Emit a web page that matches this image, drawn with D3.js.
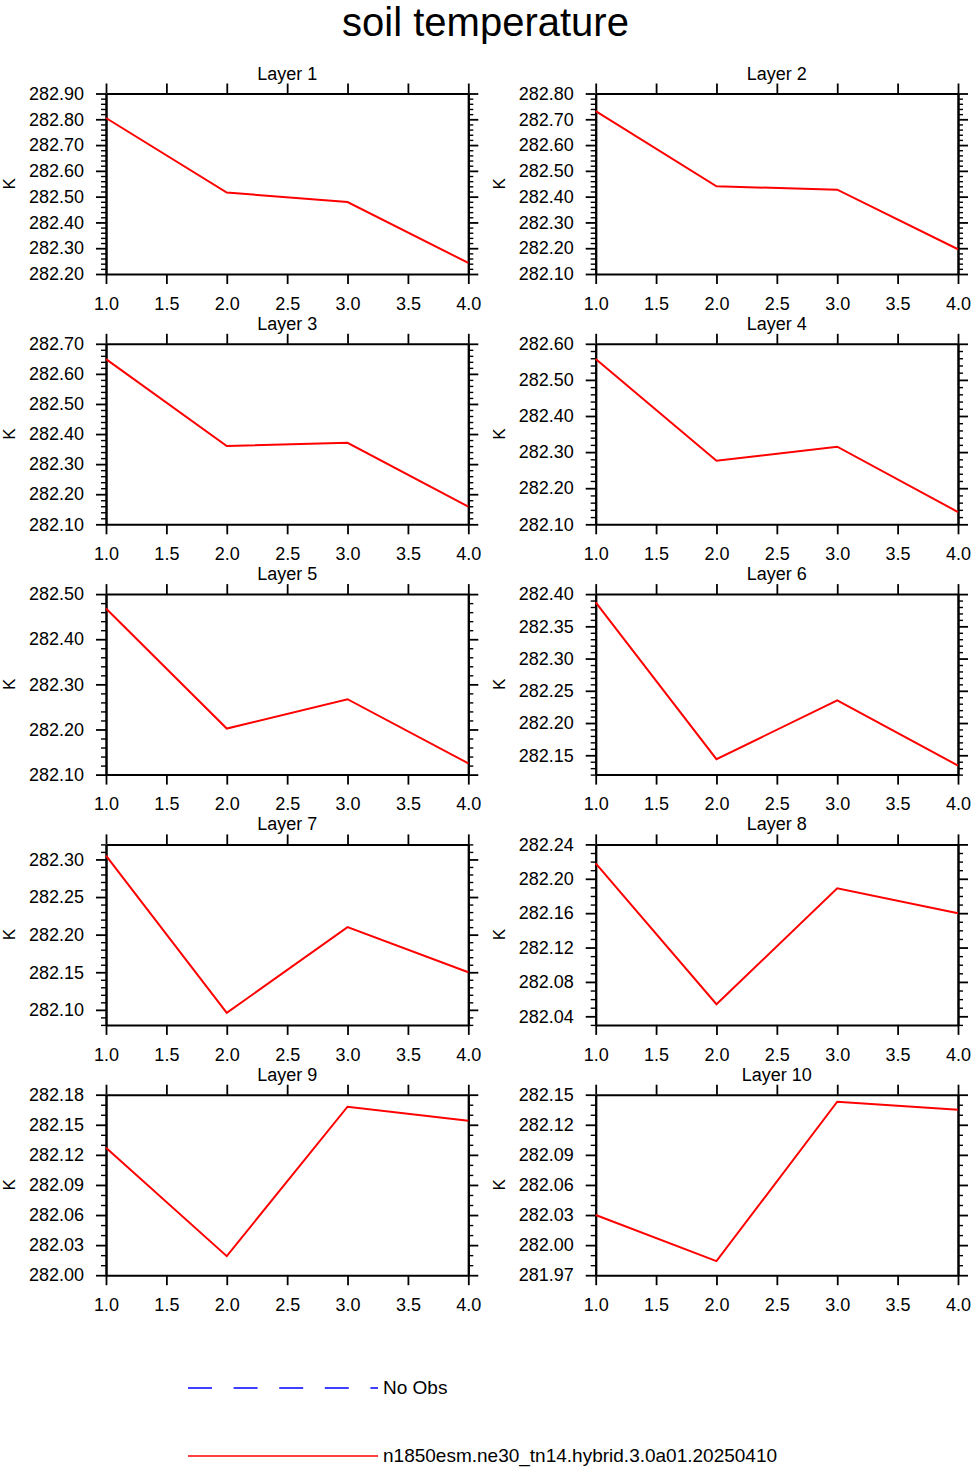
<!DOCTYPE html>
<html>
<head>
<meta charset="utf-8">
<script src="https://cdn.jsdelivr.net/npm/d3@7"></script>
<style>
  body { margin: 0; background: #fff; }
  text { font-family: "Liberation Sans", Arial, Helvetica, sans-serif; fill: #000; }
</style>
</head>
<body>
<script>
// données
const layerNames = ["Layer 1", "Layer 2", "Layer 3", "Layer 4", "Layer 5",
                    "Layer 6", "Layer 7", "Layer 8", "Layer 9", "Layer 10"];
const xValues = [1, 2, 3, 4];
const xTicks = [1.0, 1.5, 2.0, 2.5, 3.0, 3.5, 4.0];

const layer1 = [282.805, 282.516, 282.479, 282.243];
const layer2 = [282.732, 282.440, 282.427, 282.196];
const layer3 = [282.649, 282.360, 282.371, 282.159];
const layer4 = [282.558, 282.276, 282.315, 282.134];
const layer5 = [282.468, 282.202, 282.267, 282.125];
const layer6 = [282.387, 282.144, 282.235, 282.134];
const layer7 = [282.305, 282.096, 282.210, 282.150];
const layer8 = [282.218, 282.054, 282.189, 282.160];
const layer9 = [282.127, 282.019, 282.168, 282.154];
const layer10 = [282.030, 281.984, 282.143, 282.135];
const series = [layer1, layer2, layer3, layer4, layer5, layer6, layer7, layer8, layer9, layer10];

// bornes de l'axe y et pas des graduations, par couche
const yMin = [282.20, 282.10, 282.10, 282.10, 282.10, 282.12, 282.08, 282.03, 282.00, 281.97];
const yMax = [282.90, 282.80, 282.70, 282.60, 282.50, 282.40, 282.32, 282.24, 282.18, 282.15];
const yMajorStep = [0.1, 0.1, 0.1, 0.1, 0.1, 0.05, 0.05, 0.04, 0.03, 0.03];
const yMinorStep = [0.02, 0.02, 0.02, 0.02, 0.02, 0.01, 0.01, 0.01, 0.01, 0.01];

const legendLabels = ["No Obs", "n1850esm.ne30_tn14.hybrid.3.0a01.20250410"];

const W = 971, H = 1467;
const panelW = 362.3, panelH = 180.5;
const colLeft = [106, 595.7];
const rowTop0 = 93.5, rowStep = 250.3;

const svg = d3.select("body").append("svg")
  .attr("width", W)
  .attr("height", H);

svg.append("text")
  .attr("x", W / 2)
  .attr("y", 36)
  .attr("text-anchor", "middle")
  .style("font-size", "40px")
  .text("soil temperature");

// multiples de step compris dans [lo, hi]
function stepTicks(lo, hi, step) {
  const a = Math.ceil(lo / step - 1e-6), b = Math.floor(hi / step + 1e-6);
  return d3.range(a, b + 1).map(i => +(i * step).toFixed(4));
}

function styleAxis(g) {
  g.select(".domain").attr("stroke", "#000").attr("stroke-width", 2);
  g.selectAll(".tick line").attr("stroke", "#000").attr("stroke-width", 1.8);
  g.selectAll("text").style("font-size", "18px")
    .style("font-family", "'Liberation Sans', Arial, Helvetica, sans-serif");
}

series.forEach((vals, i) => {
  const col = i % 2, row = Math.floor(i / 2);
  const left = colLeft[col], top = rowTop0 + row * rowStep;

  const g = svg.append("g").attr("transform", "translate(" + left + "," + top + ")");

  const x = d3.scaleLinear().domain([1, 4]).range([0, panelW]);
  const y = d3.scaleLinear().domain([yMin[i], yMax[i]]).range([panelH, 0]);

  const major = stepTicks(yMin[i], yMax[i], yMajorStep[i]);
  const minor = stepTicks(yMin[i], yMax[i], yMinorStep[i])
    .filter(v => !major.some(m => Math.abs(m - v) < 1e-6));

  // axe gauche : mineures puis majeures avec étiquettes
  g.append("g").call(d3.axisLeft(y).tickValues(minor).tickSize(5).tickSizeOuter(0).tickFormat(""))
    .call(styleAxis).selectAll(".tick line").attr("stroke-width", 1.4);
  g.append("g").call(d3.axisLeft(y).tickValues(major).tickSize(10).tickSizeOuter(0)
      .tickPadding(12).tickFormat(d3.format(".2f")))
    .call(styleAxis);

  // axe droit
  g.append("g").attr("transform", "translate(" + panelW + ",0)")
    .call(d3.axisRight(y).tickValues(minor).tickSize(5).tickSizeOuter(0).tickFormat(""))
    .call(styleAxis).selectAll(".tick line").attr("stroke-width", 1.4);
  g.append("g").attr("transform", "translate(" + panelW + ",0)")
    .call(d3.axisRight(y).tickValues(major).tickSize(10).tickSizeOuter(0).tickFormat(""))
    .call(styleAxis);

  // axes haut et bas
  g.append("g")
    .call(d3.axisTop(x).tickValues(xTicks).tickSize(10).tickSizeOuter(0).tickFormat(""))
    .call(styleAxis);
  g.append("g").attr("transform", "translate(0," + panelH + ")")
    .call(d3.axisBottom(x).tickValues(xTicks).tickSize(10).tickSizeOuter(0)
      .tickPadding(13).tickFormat(d3.format(".1f")))
    .call(styleAxis);

  // titre de la couche
  g.append("text")
    .attr("x", panelW / 2)
    .attr("y", -14)
    .attr("text-anchor", "middle")
    .style("font-size", "18px")
    .text(layerNames[i]);

  // unité
  g.append("text")
    .attr("transform", "translate(-97," + (panelH / 2) + ")rotate(-90)")
    .attr("text-anchor", "middle")
    .attr("dy", "0.35em")
    .style("font-size", "17px")
    .text("K");

  // la courbe
  const line = d3.line()
    .x((d, j) => x(xValues[j]))
    .y(d => y(d));
  g.append("path")
    .datum(vals)
    .attr("fill", "none")
    .attr("stroke", "#ff0000")
    .attr("stroke-width", 2)
    .attr("d", line);
});

// légende
const legY = [1388, 1456];
const legend = svg.append("g");
legend.append("line")
  .attr("x1", 188).attr("x2", 378)
  .attr("y1", legY[0]).attr("y2", legY[0])
  .attr("stroke", "#0000ff").attr("stroke-width", 1.3)
  .attr("stroke-dasharray", "24,21.6");
legend.append("line")
  .attr("x1", 188).attr("x2", 378)
  .attr("y1", legY[1]).attr("y2", legY[1])
  .attr("stroke", "#ff0000").attr("stroke-width", 1.3);
legendLabels.forEach((t, i) => {
  legend.append("text")
    .attr("x", 383)
    .attr("y", legY[i])
    .attr("dy", "0.3em")
    .style("font-size", "19px")
    .text(t);
});
</script>
</body>
</html>
